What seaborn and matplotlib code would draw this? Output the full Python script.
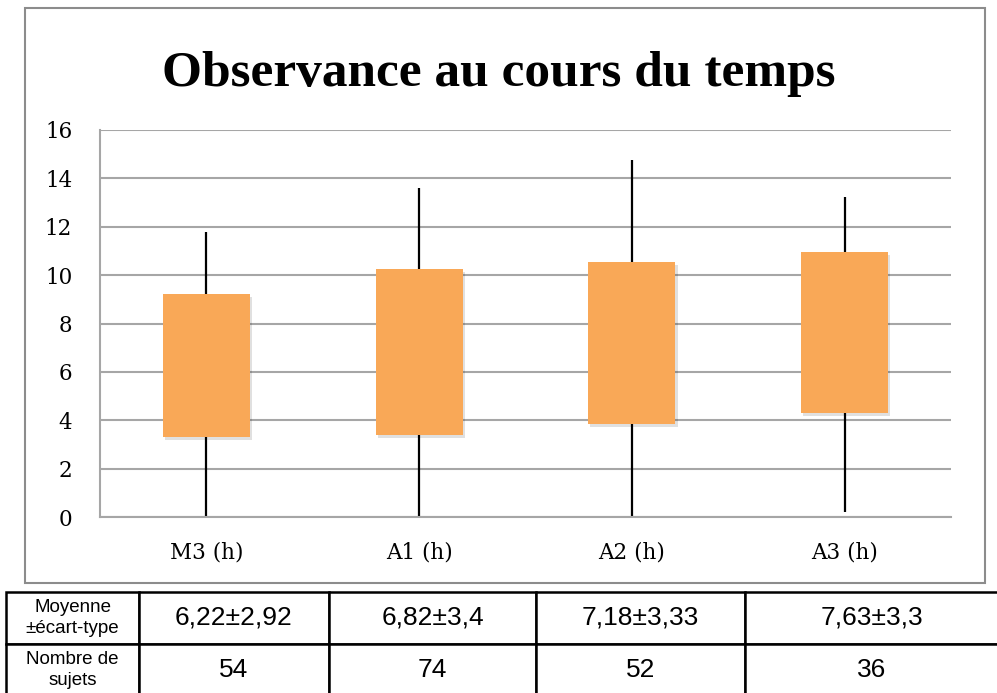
import matplotlib
matplotlib.use("Agg")
import matplotlib.patheffects as pe
import matplotlib.pyplot as plt
import pandas as pd
import seaborn as sns
from matplotlib.patches import Rectangle

periods = ["M3 (h)", "A1 (h)", "A2 (h)", "A3 (h)"]
box_low = [3.3, 3.4, 3.85, 4.3]
box_high = [9.2, 10.25, 10.55, 10.95]
whisk_min = [0.0, 0.0, 0.0, 0.2]
whisk_max = [11.8, 13.6, 14.75, 13.25]
mean_sd = ["6,22±2,92", "6,82±3,4", "7,18±3,33", "7,63±3,3"]
n_subjects = ["54", "74", "52", "36"]
row_labels = ["Moyenne\n±écart-type", "Nombre de\nsujets"]

ORANGE = "#F9A857"
GRID = "#A6A6A6"
SERIF = ["DejaVu Serif"]
TITLE_FONT = ["Liberation Serif", "DejaVu Serif"]
SANS = ["Liberation Sans", "DejaVu Sans"]

df = pd.DataFrame(
    {"period": periods, "low": box_low, "high": box_high, "lo": whisk_min, "hi": whisk_max}
)
df["span"] = df["high"] - df["low"]

sns.set_theme(style="white")
plt.rcParams["font.family"] = SERIF
plt.rcParams["text.color"] = "black"
plt.rcParams["xtick.color"] = "black"
plt.rcParams["ytick.color"] = "black"

fig = plt.figure(figsize=(9.97, 6.93), dpi=100)
ax = fig.add_axes([100 / 997, 1 - 517 / 693, 851 / 997, 387 / 693])

# whiskers behind the boxes
ax.vlines(range(len(df)), df["lo"], df["hi"], color="black", linewidth=1.6, zorder=2)
sns.barplot(
    data=df, x="period", y="span", bottom=df["low"], order=periods,
    color=ORANGE, saturation=1, width=0.41, errorbar=None, ax=ax, zorder=3,
)
for bar in ax.patches:
    bar.set_edgecolor("none")
    bar.set_path_effects([
        pe.SimplePatchShadow(offset=(1.5, -2), shadow_rgbFace="black", alpha=0.12),
        pe.Normal(),
    ])

ax.set_ylim(0, 16)
ax.set_xlim(-0.5, len(df) - 0.5)
ax.set_yticks(range(0, 17, 2))
ax.yaxis.grid(True, color=GRID, linewidth=1.5)
ax.set_axisbelow(True)
ax.set_xlabel("")
ax.set_ylabel("")
for side in ["top", "right"]:
    ax.spines[side].set_visible(False)
for side in ["left", "bottom"]:
    ax.spines[side].set_color(GRID)
    ax.spines[side].set_linewidth(1.5)
ax.tick_params(axis="y", length=0, pad=20, labelsize=15.5)
ax.tick_params(axis="x", length=0, pad=18, labelsize=15.5)

fig.text(0.5, 1 - 74 / 693, "Observance au cours du temps", ha="center", va="center",
         fontsize=37, fontweight="bold", family=TITLE_FONT, color="black")

# chart frame
fig.patches.append(Rectangle((25 / 997, 1 - 583 / 693), 960 / 997, 575 / 693,
                             transform=fig.transFigure, fill=False,
                             edgecolor="#8C8C8C", linewidth=1.5))

# summary table under the chart
tab_ax = fig.add_axes([0, 0, 1, 1])
tab_ax.axis("off")
cells = [[row_labels[0]] + mean_sd, [row_labels[1]] + n_subjects]
col_edges = [6, 139, 329, 536, 745, 999]
widths = [(b - a) / 993 for a, b in zip(col_edges[:-1], col_edges[1:])]
tbl = tab_ax.table(cellText=cells, cellLoc="center", colWidths=widths,
                   bbox=[6 / 997, -3 / 693, 993 / 997, 104 / 693])
tbl.auto_set_font_size(False)
for (r, c), cell in tbl.get_celld().items():
    cell.set_linewidth(1.8)
    cell.set_edgecolor("black")
    txt = cell.get_text()
    txt.set_fontfamily(SANS)
    txt.set_fontsize(13.5 if c == 0 else 19)
    txt.set_linespacing(1.3)
    txt.set_color("black")

fig.savefig("out.png", dpi=100)
